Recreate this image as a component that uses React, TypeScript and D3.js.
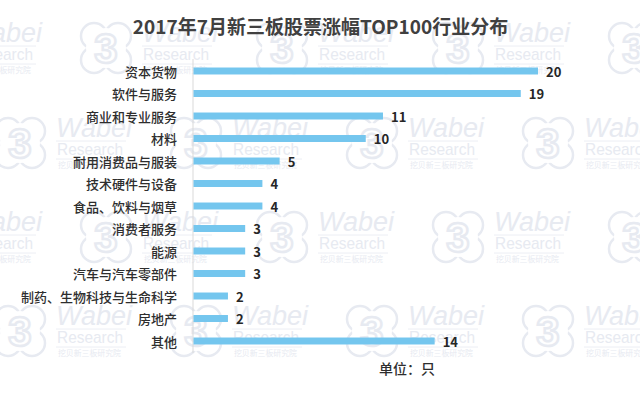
import React from 'react';
import * as d3 from 'd3';

const categories = [
  '资本货物',
  '软件与服务',
  '商业和专业服务',
  '材料',
  '耐用消费品与服装',
  '技术硬件与设备',
  '食品、饮料与烟草',
  '消费者服务',
  '能源',
  '汽车与汽车零部件',
  '制药、生物科技与生命科学',
  '房地产',
  '其他'
];
const counts = [20, 19, 11, 10, 5, 4, 4, 3, 3, 3, 2, 2, 14];

const title = '2017年7月新三板股票涨幅TOP100行业分布';
const unitLabel = '单位：只';

const width = 640;
const height = 399;
const barColor = '#74c6ee';
const wmColor = '#e7eaf1';
const cjk = '"Noto Sans CJK SC", "Microsoft YaHei", sans-serif';

// watermark tiling: two interleaved rows
const wmRowsA = [48, 237];
const wmRowsB = [143, 331];
const wmColsA = [-70, 106, 282, 458, 634];
const wmColsB = [20, 196, 372, 548];

const Watermark: React.FC<{ cx: number; cy: number }> = ({ cx, cy }) => (
  <g>
    {[[-12, -12], [12, -12], [-12, 12], [12, 12]].map(([dx, dy], i) => (
      <circle key={i} cx={cx + dx} cy={cy + dy} r={13} fill="none" stroke={wmColor} strokeWidth={2.5} />
    ))}
    <circle cx={cx} cy={cy} r={20} fill="#fff" />
    <text x={cx} y={cy + 15} textAnchor="middle" fontFamily="Arial, sans-serif" fontWeight="bold"
      fontSize={42} fill="#fff" stroke={wmColor} strokeWidth={2.5}>3</text>
    <text x={cx + 36} y={cy - 6} fontFamily="Arial, sans-serif" fontStyle="italic" fontSize={27} fill={wmColor}>Wabei</text>
    <line x1={cx + 36} x2={cx + 106} y1={cy - 2} y2={cy - 2} stroke={wmColor} strokeWidth={0.8} />
    <text x={cx + 37} y={cy + 12} fontFamily="Arial, sans-serif" fontSize={17} fill={wmColor}
      textLength={66} lengthAdjust="spacingAndGlyphs">Research</text>
    <line x1={cx + 36} x2={cx + 106} y1={cy + 16} y2={cy + 16} stroke={wmColor} strokeWidth={0.8} />
    <text x={cx + 38} y={cy + 25} fontFamily={cjk} fontSize={8} fill={wmColor}
      textLength={63} lengthAdjust="spacingAndGlyphs">挖贝新三板研究院</text>
  </g>
);

const App: React.FC = () => {
  const x = d3.scaleLinear().domain([0, 20]).range([193.5, 538]);
  const y = d3.scaleBand<string>()
    .domain(categories)
    .range([59.75, 352.25])
    .paddingInner(0.69)
    .paddingOuter(0.345);
  const bw = y.bandwidth();

  return (
    <svg width={width} height={height} style={{ position: 'absolute', left: 0, top: 0, background: '#fff' }}>
      {/* watermarks */}
      {wmRowsA.map(r => wmColsA.map(c => <Watermark key={`a${r}-${c}`} cx={c} cy={r} />))}
      {wmRowsB.map(r => wmColsB.map(c => <Watermark key={`b${r}-${c}`} cx={c} cy={r} />))}

      <text x={320.5} y={34} textAnchor="middle" fontFamily={cjk} fontWeight="bold" fontSize={19} fill="#404040">
        {title}
      </text>

      {/* axis line */}
      <line x1={193} x2={193} y1={59} y2={353} stroke="#d9d9d9" strokeWidth={1} />

      {categories.map((c, i) => {
        const cy = (y(c) as number) + bw / 2;
        return (
          <g key={c}>
            <text x={177} y={cy + 1} dy="0.35em" textAnchor="end" fontFamily={cjk} fontWeight={500}
              fontSize={13} fill="#2e2e2e">{c}</text>
            <rect x={x(0)} y={y(c)} width={x(counts[i]) - x(0)} height={bw} fill={barColor} />
            <text x={x(counts[i]) + 8} y={cy + 1} dy="0.35em" fontFamily={cjk} fontWeight="bold"
              fontSize={13} fill="#262626">{counts[i]}</text>
          </g>
        );
      })}

      <text x={407} y={374} textAnchor="middle" fontFamily={cjk} fontWeight={500} fontSize={14} fill="#2e2e2e">
        {unitLabel}
      </text>
    </svg>
  );
};

export default App;
